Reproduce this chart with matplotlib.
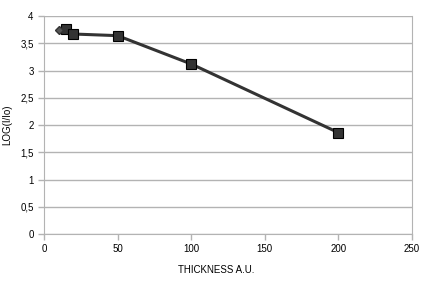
import matplotlib
matplotlib.use('Agg')
import matplotlib.pyplot as plt
from matplotlib.ticker import FuncFormatter

plt.rcParams['font.family'] = ['Liberation Sans', 'DejaVu Sans']

# measured data
thickness = [15, 20, 50, 100, 200]
log_ratio = [3.76, 3.67, 3.64, 3.12, 1.86]
# single extra point (diamond)
extra_x = [10]
extra_y = [3.75]

fig = plt.figure(figsize=(4.36, 2.91), dpi=100)
ax = fig.add_axes([0.1009, 0.1959, 0.844, 0.749])

grid_c = '#b3b3b3'
ax.plot(thickness, log_ratio, color='#333333', lw=2.2, marker='s', ms=6.5,
        mfc='#333333', mec='black', mew=0.8, zorder=3)
ax.plot(extra_x, extra_y, ls='none', marker='D', ms=4.5, mfc='#555555',
        mec='#333333', zorder=3)

ax.set_xlim(0, 250)
ax.set_ylim(0, 4)
ax.set_xticks(range(0, 251, 50))
ax.set_yticks([0, 0.5, 1, 1.5, 2, 2.5, 3, 3.5, 4])
fmt = FuncFormatter(lambda v, p: ('%g' % v).replace('.', ','))
ax.yaxis.set_major_formatter(fmt)
ax.grid(axis='y', color=grid_c, lw=1)
ax.set_axisbelow(True)

for s in ['left', 'bottom', 'right']:
    ax.spines[s].set_color(grid_c)
ax.spines['top'].set_visible(False)
ax.tick_params(colors=grid_c, labelcolor='black', labelsize=7, length=4, width=1)

ax.set_xlabel('THICKNESS A.U.', fontsize=7)
ax.set_ylabel('LOG(I/Io)', fontsize=7)
ax.xaxis.set_label_coords(0.467, -0.142)
ax.yaxis.set_label_coords(-0.087, 0.5)

fig.savefig('out.png', dpi=100)
